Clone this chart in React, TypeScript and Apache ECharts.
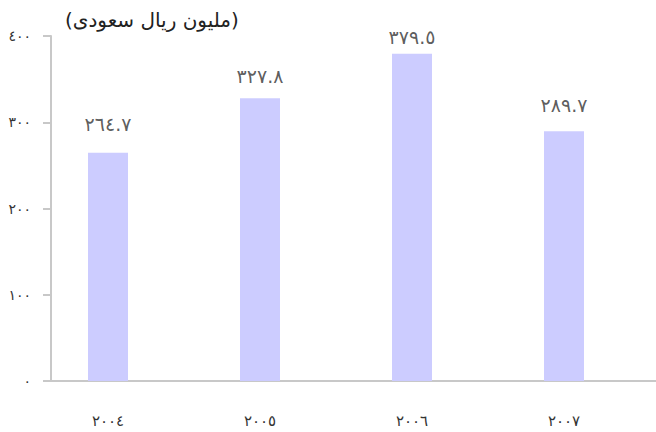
import React, { useEffect, useRef } from "react";
import * as echarts from "echarts";

const categories = ["2004", "2005", "2006", "2007"];
const values = [264.7, 327.8, 379.5, 289.7];
const titleText = "(مليون ريال سعودى)";
const yMax = 400;
const yInterval = 100;

const AR_DIGITS = ["٠", "١", "٢", "٣", "٤", "٥", "٦", "٧", "٨", "٩"];
const toArabic = (s: string | number) =>
  String(s).replace(/[0-9]/g, (d) => AR_DIGITS[Number(d)]);

const FONT = "DejaVu Sans";

export default function App() {
  const ref = useRef<HTMLDivElement>(null);
  useEffect(() => {
    document.body.style.margin = "0";
    const chart = echarts.init(ref.current!, null, { renderer: "svg" });
    chart.setOption({
      animation: false,
      textStyle: { fontFamily: FONT },
      title: {
        text: titleText,
        left: 60,
        top: 5,
        textStyle: { fontFamily: FONT, fontSize: 20, fontWeight: "normal", color: "#222" },
      },
      grid: { left: 51, right: -3, top: 36, bottom: 51, outerBoundsMode: "none" },
      xAxis: {
        type: "category",
        data: categories,
        axisLine: { lineStyle: { color: "#c8c8c8", width: 2 } },
        axisTick: { length: 8, lineStyle: { color: "#c8c8c8", width: 2 } },
        axisLabel: {
          formatter: (v: string) => toArabic(v),
          margin: 32,
          fontSize: 15,
          color: "#333",
          padding: [0, 38, 0, 0],
          fontFamily: FONT,
        },
      },
      yAxis: [
        {
          type: "value",
          min: 0,
          max: yMax,
          interval: yInterval,
          splitLine: { show: false },
          axisLine: { show: true, lineStyle: { color: "#c8c8c8", width: 2 } },
          axisTick: { show: true, length: 8, lineStyle: { color: "#c8c8c8", width: 2 } },
          axisLabel: {
            formatter: (v: number) => toArabic(v),
            margin: 20,
            fontSize: 14,
            color: "#333",
            fontFamily: FONT,
          },
        },
        {
          type: "value",
          min: -72.5,
          max: 380.5,
          show: false,
          splitLine: { show: false },
        },
      ],
      series: [
        {
          type: "bar",
          data: values,
          barWidth: 40,
          barGap: "-5%",
          itemStyle: { color: "#ccccff" },
        },
        {
          type: "bar",
          data: values.map(() => null),
          barWidth: 40,
          itemStyle: { color: "transparent" },
        },
        {
          type: "scatter",
          yAxisIndex: 1,
          data: values,
          symbolSize: 0,
          silent: true,
          label: {
            show: true,
            position: "inside",
            offset: [-19, 0],
            fontSize: 19,
            color: "#333",
            fontFamily: FONT,
            formatter: (p: any) => toArabic(p.value.toFixed(1)),
          },
        },
      ],
    });
    return () => chart.dispose();
  }, []);
  return <div ref={ref} style={{ width: 656, height: 432 }} />;
}
